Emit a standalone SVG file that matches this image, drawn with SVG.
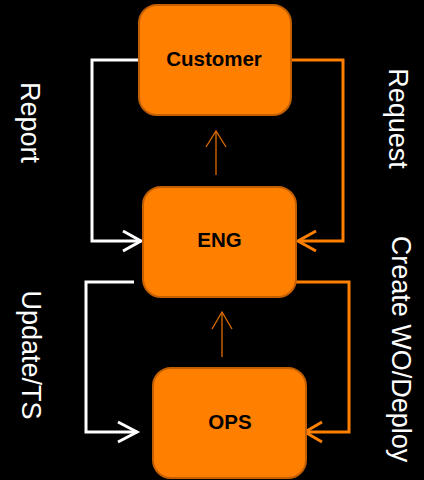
<svg xmlns="http://www.w3.org/2000/svg" width="424" height="480" viewBox="0 0 424 480">
  <style>
    .node { fill: #ff7f00; stroke: #c45f00; stroke-width: 2; }
    .label { font-family: "Liberation Sans", Arial, sans-serif; font-weight: bold; font-size: 20.5px; fill: #000; text-anchor: middle; }
    .side { font-family: "Liberation Sans", Arial, sans-serif; font-size: 27px; fill: #fff; text-anchor: middle; }
    .white { fill: none; stroke: #fff; stroke-width: 3; }
    .orange { fill: none; stroke: #ff7f00; stroke-width: 3; }
    .thin { fill: none; stroke: #e06d00; stroke-width: 1.3; }
  </style>
  <rect width="424" height="480" fill="#000"/>

  <g id="connectors">
    <!-- Customer to ENG, left loop -->
    <polyline class="white" points="138,60 92,60 92,241 141,241"/>
    <polyline class="white" points="123,231 141,241 123,251"/>
    <!-- Customer to ENG, right loop -->
    <polyline class="orange" points="291,60 343,60 343,241 298,241"/>
    <polyline class="orange" points="316,231 298,241 316,251"/>
    <!-- ENG up to Customer -->
    <line class="thin" x1="216" y1="175" x2="216" y2="131"/>
    <polyline class="thin" points="206,147 216,131 226,147"/>
    <!-- ENG to OPS, left loop -->
    <polyline class="white" points="134,282 86,282 86,432 137,432"/>
    <polyline class="white" points="118,422 137,432 118,442"/>
    <!-- ENG to OPS, right loop -->
    <polyline class="orange" points="296,282 349,282 349,432 305,432"/>
    <polyline class="orange" points="322,422 305,432 322,442"/>
    <!-- OPS up to ENG -->
    <line class="thin" x1="222" y1="357" x2="222" y2="312"/>
    <polyline class="thin" points="212,329 222,312 232,329"/>
  </g>

  <g id="customer">
    <rect class="node" x="139" y="5" width="152" height="110" rx="18"/>
    <text class="label" x="214" y="66">Customer</text>
  </g>
  <g id="eng">
    <rect class="node" x="143" y="187" width="153" height="110" rx="18"/>
    <text class="label" x="219.5" y="247">ENG</text>
  </g>
  <g id="ops">
    <rect class="node" x="153" y="368" width="153" height="110" rx="18"/>
    <text class="label" x="230" y="429">OPS</text>
  </g>

  <g id="side-labels">
    <text class="side" transform="translate(21,122.5) rotate(90)">Report</text>
    <text class="side" transform="translate(389,118.5) rotate(90)">Request</text>
    <text class="side" transform="translate(22,355) rotate(90)">Update/TS</text>
    <text class="side" transform="translate(392,349) rotate(90)">Create WO/Deploy</text>
  </g>
</svg>
